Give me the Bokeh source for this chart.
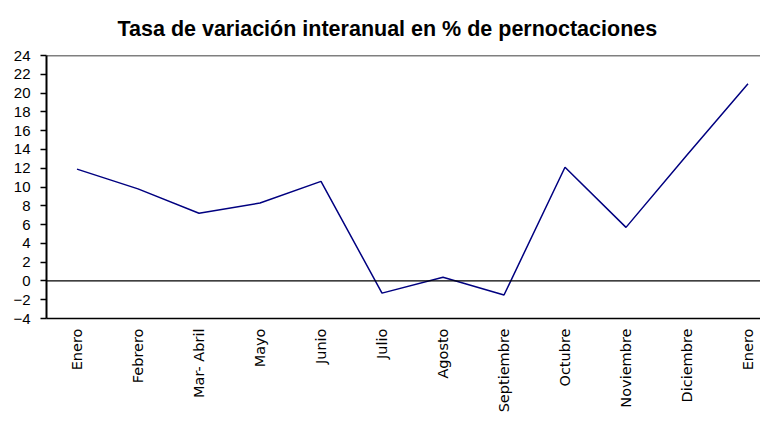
from math import pi
from bokeh.plotting import figure
from bokeh.models import Range1d, FixedTicker, Span, Title
from bokeh.embed import file_html
from bokeh.resources import INLINE

# ---- data ----
months = ["Enero", "Febrero", "Mar- Abril", "Mayo", "Junio", "Julio", "Agosto",
          "Septiembre", "Octubre", "Noviembre", "Diciembre", "Enero"]
values = [11.9, 9.8, 7.2, 8.3, 10.6, -1.3, 0.4, -1.5, 12.1, 5.7, 13.4, 21.0]
y_ticks = [-4, -2, 0, 2, 4, 6, 8, 10, 12, 14, 16, 18, 20, 22, 24]
title_text = "Tasa de variación interanual en % de pernoctaciones"

xs = list(range(len(months)))

p = figure(width=760, height=417, output_backend="svg", toolbar_location=None,
           x_range=Range1d(-0.5, -0.5 + 714 / 61), y_range=Range1d(-4, 24),
           min_border_left=46, min_border_right=0, min_border_top=0,
           min_border_bottom=99, background_fill_color="white",
           border_fill_color="white")
p.title = None
t = Title(text=title_text, align="left", text_font="Liberation Sans",
          text_font_size="21.5px", text_font_style="bold", text_color="black",
          offset=71, standoff=29)
p.add_layout(t, "above")

p.outline_line_color = None
p.xgrid.visible = False
p.ygrid.visible = False

p.line(xs, values, line_color="#000080", line_width=1.5)

p.add_layout(Span(location=24, dimension="width", line_color="black", line_width=1.5))
p.add_layout(Span(location=0, dimension="width", line_color="black", line_width=1.3))

ya = p.yaxis[0]
ya.ticker = FixedTicker(ticks=y_ticks)
ya.axis_line_width = 2
ya.axis_line_color = "black"
ya.major_tick_out = 6
ya.major_tick_in = 0
ya.major_tick_line_width = 1.5
ya.minor_tick_line_color = None
ya.major_label_standoff = 10
ya.major_label_text_font = "Liberation Sans"
ya.major_label_text_font_size = "15px"
ya.major_label_text_color = "black"

xa = p.xaxis[0]
xa.ticker = FixedTicker(ticks=xs)
xa.major_label_overrides = {i: m for i, m in zip(xs, months)}
xa.axis_line_width = 1.5
xa.axis_line_color = "black"
xa.major_tick_out = 0
xa.major_tick_in = 0
xa.minor_tick_line_color = None
xa.major_label_orientation = pi / 2
xa.major_label_standoff = 10
xa.major_label_text_font = "DejaVu Sans"
xa.major_label_text_font_size = "14.5px"
xa.major_label_text_color = "black"

open("out.html", "w").write(file_html(p, INLINE))
